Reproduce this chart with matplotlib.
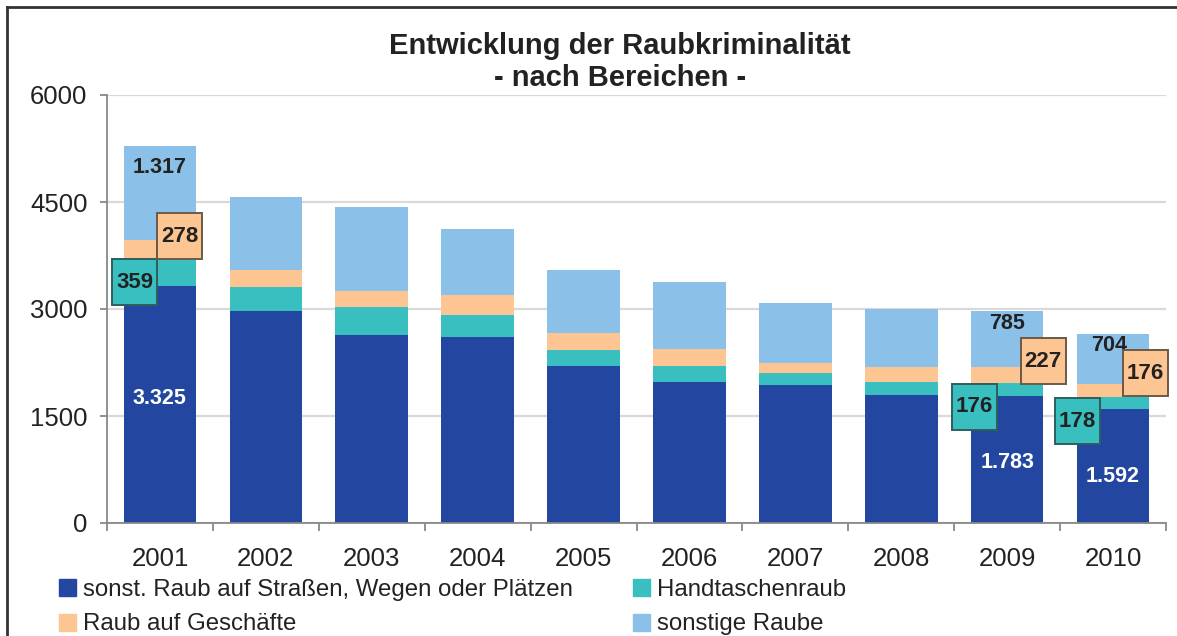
import matplotlib
matplotlib.use("Agg")
import matplotlib.pyplot as plt
from matplotlib.patches import Rectangle
from matplotlib.lines import Line2D
from matplotlib.transforms import Affine2D, ScaledTranslation
import numpy as np

plt.rcParams['font.family'] = ['Liberation Sans', 'DejaVu Sans']

years = ["2001", "2002", "2003", "2004", "2005", "2006", "2007", "2008", "2009", "2010"]
strasse = [3325, 2971, 2634, 2606, 2198, 1973, 1931, 1790, 1783, 1592]
handtasche = [359, 337, 393, 309, 225, 225, 169, 183, 176, 178]
geschaefte = [278, 244, 225, 281, 239, 240, 140, 211, 227, 176]
sonstige = [1317, 1022, 1181, 928, 885, 940, 843, 816, 785, 704]

series_names = ["sonst. Raub auf Straßen, Wegen oder Plätzen", "Handtaschenraub",
                "Raub auf Geschäfte", "sonstige Raube"]
colors = ["#2347A0", "#3ABFC1", "#FDC591", "#8BC1E8"]
yticks = [0, 1500, 3000, 4500, 6000]

labeled_years = [0, 8, 9]

W, H = 1177, 636
fig = plt.figure(figsize=(W / 100, H / 100), dpi=100)
ax = fig.add_axes([107 / W, 1 - 523 / H, (1166 - 107) / W, (523 - 95) / H])

x = np.arange(len(years))
bw = 0.685
data = [strasse, handtasche, geschaefte, sonstige]
bottom = np.zeros(len(years))
for vals, c in zip(data, colors):
    ax.bar(x, vals, bw, bottom=bottom, color=c, zorder=2, linewidth=0)
    bottom = bottom + np.array(vals)

ax.set_xlim(-0.5, len(years) - 0.5)
ax.set_ylim(0, 6000)
ax.set_yticks(yticks)
ax.set_yticklabels([str(v) for v in yticks], fontsize=18.5, color="#222222")
ax.yaxis.grid(True, color="#D9D9D9", linewidth=1.6, zorder=0)
ax.set_axisbelow(True)
for s in ["top", "right"]:
    ax.spines[s].set_visible(False)
for s in ["left", "bottom"]:
    ax.spines[s].set_color("#888888")
    ax.spines[s].set_linewidth(1.3)
ax.tick_params(axis="y", length=5, width=1.3, color="#888888", pad=9)

ax.set_xticks(x)
ax.set_xticklabels(years, fontsize=18.5, color="#222222")
ax.set_xticks(np.arange(-0.5, len(years), 1.0), minor=True)
ax.tick_params(axis="x", which="major", length=0, pad=17)
ax.tick_params(axis="x", which="minor", length=6, width=1.3, color="#888888")


def fmt(v):
    return f"{v:,}".replace(",", ".")


# label placements (pixel offsets from segment center)
dark_off = {0: (0, 6), 8: (0, -3), 9: (0, -10)}
light_off = {0: (0, 26), 8: (0, 16), 9: (-4, 14)}
teal_off = {0: (-25, -9), 8: (-33, -17), 9: (-36, -18)}
peach_off = {0: (20, 14), 8: (36, 14), 9: (32, 17)}
box_w, box_h = 45, 46


def boxed_label(txt, xd, yd, off, fc, ec):
    tr = Affine2D().translate(off[0], off[1]) + ScaledTranslation(xd, yd, ax.transData)
    r = Rectangle((-box_w / 2, -box_h / 2), box_w, box_h, transform=tr, fc=fc, ec=ec, lw=1.4,
                  zorder=6, clip_on=False)
    ax.add_artist(r)
    ax.annotate(txt, (xd, yd), xytext=off, textcoords="offset pixels", ha="center", va="center",
                fontsize=16, fontweight="bold", color="#222222", zorder=7)


for i in labeled_years:
    b0 = 0
    mids = []
    for vals in data:
        mids.append(b0 + vals[i] / 2)
        b0 += vals[i]
    ax.annotate(fmt(strasse[i]), (x[i], mids[0]), xytext=dark_off[i], textcoords="offset pixels",
                ha="center", va="center", fontsize=15.5, fontweight="bold", color="white", zorder=5)
    ax.annotate(fmt(sonstige[i]), (x[i], mids[3]), xytext=light_off[i], textcoords="offset pixels",
                ha="center", va="center", fontsize=15.5, fontweight="bold", color="#222222", zorder=5)
    boxed_label(fmt(handtasche[i]), x[i], mids[1], teal_off[i], colors[1], "#2E5E5E")
    boxed_label(fmt(geschaefte[i]), x[i], mids[2], peach_off[i], colors[2], "#6B5A48")

fig.text(620 / W, 1 - 46 / H, "Entwicklung der Raubkriminalität", ha="center", va="center",
         fontsize=21, fontweight="bold", color="#222222")
fig.text(620 / W, 1 - 78 / H, "- nach Bereichen -", ha="center", va="center",
         fontsize=21, fontweight="bold", color="#222222")

# legend
handles = [Rectangle((0, 0), 1, 1, color=colors[0]), Rectangle((0, 0), 1, 1, color=colors[2]),
           Rectangle((0, 0), 1, 1, color=colors[1]), Rectangle((0, 0), 1, 1, color=colors[3])]
labels = [series_names[0], series_names[2], series_names[1], series_names[3]]
leg = fig.legend(handles, labels, ncol=2, loc="upper left", bbox_to_anchor=(59 / W, 1 - 579 / H),
                 frameon=False, fontsize=17.3, handlelength=0.71, handleheight=0.71,
                 handletextpad=0.3, columnspacing=2.5, labelspacing=0.52, borderpad=0,
                 borderaxespad=0)
for t in leg.get_texts():
    t.set_color("#222222")

# outer frame (left and top)
fig.add_artist(Line2D([7 / W, 7 / W], [0, 1 - 7 / H], color="#333333", lw=2, transform=fig.transFigure))
fig.add_artist(Line2D([7 / W, 1], [1 - 7 / H, 1 - 7 / H], color="#333333", lw=2, transform=fig.transFigure))

fig.savefig("out.png", dpi=100)
